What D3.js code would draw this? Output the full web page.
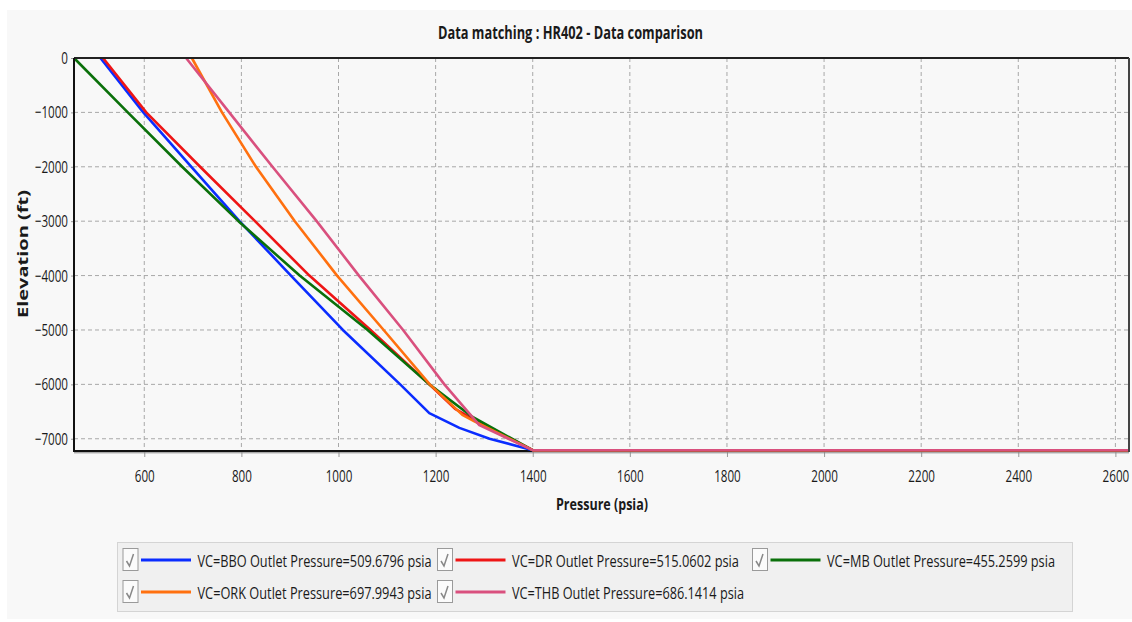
<!DOCTYPE html>
<html>
<head>
<meta charset="utf-8">
<script src="https://cdn.jsdelivr.net/npm/d3@7"></script>
<style>
body { margin: 0; background: #fff; }
text { font-family: "Open Sans", sans-serif; fill: #1a1a1a; }
</style>
</head>
<body>
<script>
// elevation (ft) / pressure (psia)
var elevBBO = [0, -1000, -2000, -3000, -4000, -5000, -6000, -6530, -6800, -7000, -7210, -7210];
var presBBO = [509.68, 598, 697, 796, 902, 1009, 1127, 1187, 1249, 1311, 1400, 2628];
var elevDR = [0, -1000, -2000, -3000, -4000, -5000, -6000, -6450, -6560, -6700, -7210, -7210];
var presDR = [515.06, 604, 715, 828, 940, 1066, 1187, 1240, 1262, 1290, 1400, 2628];
var elevMB = [0, -1000, -2000, -3000, -4000, -5000, -6000, -6600, -7210, -7210];
var presMB = [455.26, 566, 678, 794, 920, 1060, 1187, 1276, 1400, 2628];
var elevORK = [0, -1000, -2000, -3000, -4000, -5000, -6000, -6400, -6560, -6680, -7210, -7210];
var presORK = [697.99, 760, 830, 910, 997, 1093, 1188, 1236, 1255, 1280, 1400, 2628];
var elevTHB = [0, -1000, -2000, -3000, -4000, -5000, -6000, -6750, -7210, -7210];
var presTHB = [686.14, 775, 864, 955, 1042, 1133, 1218, 1290, 1400, 2628];

var seriesNames = [
	"VC=BBO Outlet Pressure=509.6796 psia",
	"VC=DR Outlet Pressure=515.0602 psia",
	"VC=MB Outlet Pressure=455.2599 psia",
	"VC=ORK Outlet Pressure=697.9943 psia",
	"VC=THB Outlet Pressure=686.1414 psia"
];
var seriesElev = [elevBBO, elevDR, elevMB, elevORK, elevTHB];
var seriesPres = [presBBO, presDR, presMB, presORK, presTHB];
var seriesColors = ["#0a2cff", "#ee1515", "#0a700a", "#ff700f", "#d9507e"];

var xTicks = [600, 800, 1000, 1200, 1400, 1600, 1800, 2000, 2200, 2400, 2600];
var yTicks = [0, -1000, -2000, -3000, -4000, -5000, -6000, -7000];
var xDomain = [455.26, 2628];
var yDomain = [-7225, 0];

var plot = {left: 74, top: 58, right: 1129, bottom: 451};
var squeeze = 0.685;

var svg = d3.select("body").append("svg")
	.attr("width", 1132)
	.attr("height", 622);

// pannello grigio
svg.append("rect")
	.attr("x", 7).attr("y", 10)
	.attr("width", 1125).attr("height", 609)
	.attr("fill", "#f8f8f8");

var x = d3.scaleLinear().domain(xDomain).range([plot.left, plot.right]);
var y = d3.scaleLinear().domain(yDomain).range([plot.bottom, plot.top]);

// griglia tratteggiata
svg.selectAll("line.vgrid")
	.data(xTicks)
	.enter()
	.append("line")
	.attr("class", "vgrid")
	.attr("x1", function (d) { return x(d); })
	.attr("x2", function (d) { return x(d); })
	.attr("y1", plot.top)
	.attr("y2", plot.bottom)
	.attr("stroke", "#a8a8a8")
	.attr("stroke-dasharray", "4,3");

svg.selectAll("line.hgrid")
	.data(yTicks)
	.enter()
	.append("line")
	.attr("class", "hgrid")
	.attr("x1", plot.left)
	.attr("x2", plot.right)
	.attr("y1", function (d) { return y(d); })
	.attr("y2", function (d) { return y(d); })
	.attr("stroke", "#a8a8a8")
	.attr("stroke-dasharray", "4,3");

// assi
var xAxis = svg.append("g")
	.attr("transform", "translate(0," + plot.bottom + ")")
	.call(d3.axisBottom(x).tickValues(xTicks).tickSize(6).tickFormat(d3.format("d")));
xAxis.select(".domain").remove();
xAxis.selectAll("line").attr("stroke", "#999");
xAxis.selectAll("text")
	.attr("y", 19)
	.attr("transform", "scale(" + squeeze + ",1)")
	.style("font-size", "17px")
	.style("fill", "#1a1a1a");

var yAxis = svg.append("g")
	.attr("transform", "translate(" + plot.left + ",0)")
	.call(d3.axisLeft(y).tickValues(yTicks).tickSize(3).tickFormat(d3.format("d")));
yAxis.select(".domain").remove();
yAxis.selectAll("line").attr("stroke", "#999");
yAxis.selectAll("text")
	.attr("x", -6 / squeeze)
	.attr("transform", "scale(" + squeeze + ",1)")
	.style("font-size", "17px")
	.style("fill", "#1a1a1a");

// asse inferiore sotto le curve
svg.append("line").attr("x1", plot.left).attr("x2", plot.right)
	.attr("y1", plot.bottom).attr("y2", plot.bottom)
	.attr("stroke", "#111").attr("stroke-width", 2);
svg.append("line").attr("x1", plot.left).attr("x2", plot.right)
	.attr("y1", plot.bottom + 1.8).attr("y2", plot.bottom + 1.8)
	.attr("stroke", "#888").attr("stroke-width", 1);

// curve
var line = d3.line()
	.x(function (d) { return x(d[0]); })
	.y(function (d) { return y(d[1]); });

svg.selectAll("path.curve")
	.data(seriesPres)
	.enter()
	.append("path")
	.attr("class", "curve")
	.attr("d", function (p, i) {
		return line(p.map(function (v, j) { return [v, seriesElev[i][j]]; }));
	})
	.attr("fill", "none")
	.attr("stroke", function (d, i) { return seriesColors[i]; })
	.attr("stroke-width", 2.6)
	.attr("stroke-linejoin", "round");

// cornice
svg.append("line").attr("x1", plot.left).attr("x2", plot.right)
	.attr("y1", plot.top).attr("y2", plot.top)
	.attr("stroke", "#222").attr("stroke-width", 2);
svg.append("line").attr("x1", plot.right).attr("x2", plot.right)
	.attr("y1", plot.top).attr("y2", plot.bottom + 1)
	.attr("stroke", "#444").attr("stroke-width", 2);
svg.append("line").attr("x1", plot.left).attr("x2", plot.left)
	.attr("y1", plot.top).attr("y2", plot.bottom + 1)
	.attr("stroke", "#111").attr("stroke-width", 2);

// titoli
svg.append("text")
	.attr("x", 570.5).attr("y", 38.5)
	.attr("text-anchor", "middle")
	.attr("textLength", 265).attr("lengthAdjust", "spacingAndGlyphs")
	.style("font-size", "17px").style("font-weight", "bold")
	.text("Data matching : HR402 - Data comparison");

svg.append("text")
	.attr("x", 602).attr("y", 510)
	.attr("text-anchor", "middle")
	.attr("textLength", 92).attr("lengthAdjust", "spacingAndGlyphs")
	.style("font-size", "16px").style("font-weight", "bold")
	.text("Pressure (psia)");

svg.append("text")
	.attr("transform", "translate(28,254) rotate(-90)")
	.attr("text-anchor", "middle")
	.attr("textLength", 128).attr("lengthAdjust", "spacingAndGlyphs")
	.style("font-size", "15px").style("font-weight", "bold")
	.text("Elevation (ft)");

// legenda
var colX = [122.5, 437, 752];
var rowY = [560, 592];
var textLen = [234, 227, 228, 234, 232];

svg.append("rect")
	.attr("x", 117.5).attr("y", 542.5)
	.attr("width", 955).attr("height", 69)
	.attr("fill", "#f0f0f0")
	.attr("stroke", "#d4d4d4");

var item = svg.selectAll("g.legend")
	.data(seriesNames)
	.enter()
	.append("g")
	.attr("class", "legend")
	.attr("transform", function (d, i) {
		return "translate(" + colX[i % 3] + "," + rowY[Math.floor(i / 3)] + ")";
	});

item.append("rect")
	.attr("x", 0.5).attr("y", -11.5)
	.attr("width", 15).attr("height", 22)
	.attr("fill", "#fbfbfb")
	.attr("stroke", "#9a9a9a");

item.append("path")
	.attr("d", "M4,1 L7,6 L11,-6")
	.attr("fill", "none")
	.attr("stroke", "#888")
	.attr("stroke-width", 1.5);

item.append("line")
	.attr("x1", 18.5).attr("x2", 68.5)
	.attr("y1", 0).attr("y2", 0)
	.attr("stroke", function (d, i) { return seriesColors[i]; })
	.attr("stroke-width", 3);

item.append("text")
	.attr("x", 75).attr("y", 6.5)
	.attr("textLength", function (d, i) { return textLen[i]; })
	.attr("lengthAdjust", "spacingAndGlyphs")
	.style("font-size", "17px")
	.text(function (d) { return d; });
</script>
</body>
</html>
